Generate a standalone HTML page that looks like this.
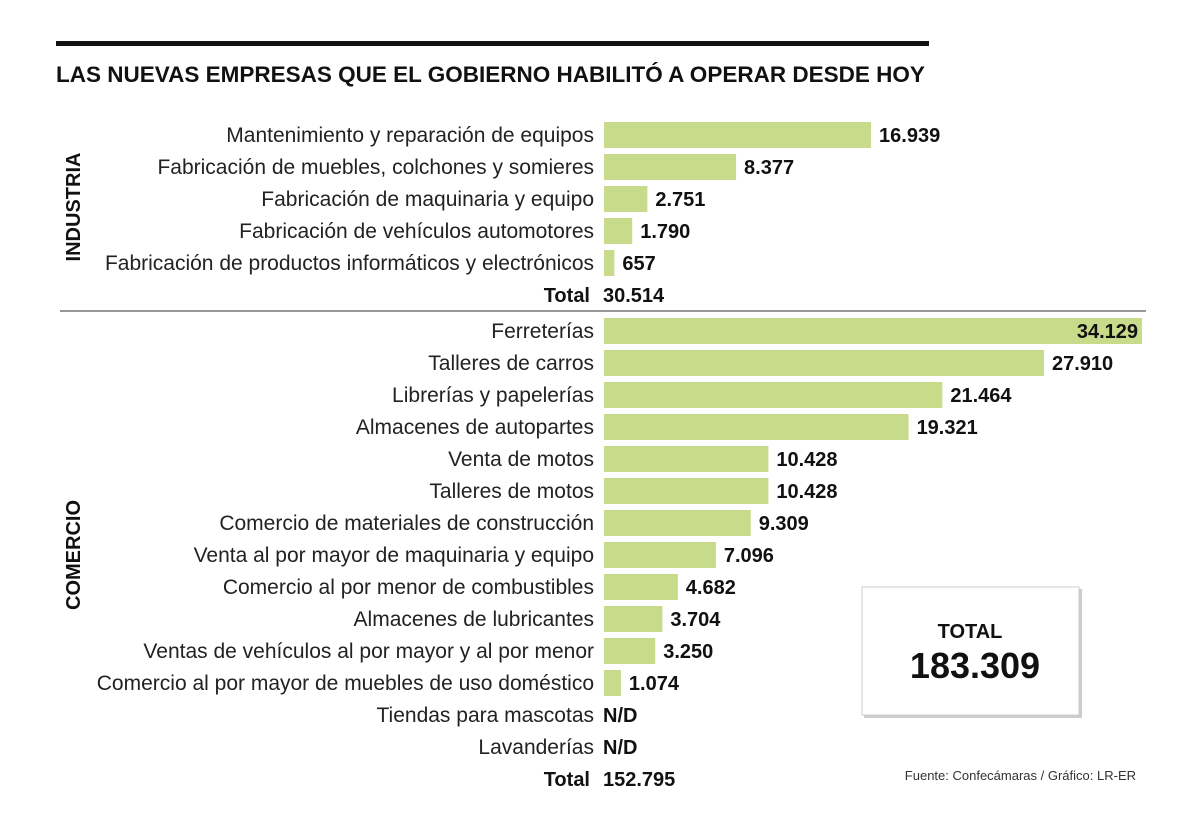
<!DOCTYPE html>
<html><head><meta charset="utf-8"><style>
body{margin:0;background:#fff;}
svg{display:block;font-family:"Liberation Sans",sans-serif;}
</style></head><body>
<svg id="chart" width="1200" height="832" viewBox="0 0 1200 832" xmlns="http://www.w3.org/2000/svg">
<rect x="56" y="41" width="873" height="5" fill="#111"/>
<text x="56" y="82" font-size="22.5" font-weight="bold" fill="#111">LAS NUEVAS EMPRESAS QUE EL GOBIERNO HABILITÓ A OPERAR DESDE HOY</text>
<line x1="60" y1="311" x2="1146" y2="311" stroke="#777" stroke-width="1.5"/>
<text transform="translate(80,207) rotate(-90)" text-anchor="middle" font-size="20" font-weight="bold" fill="#111">INDUSTRIA</text>
<text transform="translate(80,555) rotate(-90)" text-anchor="middle" font-size="20" font-weight="bold" fill="#111">COMERCIO</text>
<g id="bars"></g>
<rect x="864" y="589" width="218" height="129" fill="#999" opacity="0.5"/>
<rect x="862" y="587" width="217" height="128" fill="#fff" stroke="#ccc"/>
<text x="970" y="638" text-anchor="middle" font-size="20" font-weight="bold" fill="#111">TOTAL</text>
<text x="975" y="678" text-anchor="middle" font-size="36" font-weight="bold" fill="#111">183.309</text>
<text x="1136" y="780" text-anchor="end" font-size="13" fill="#333">Fuente: Confecámaras / Gráfico: LR-ER</text>
</svg>
<script>
const indCategories=["Mantenimiento y reparación de equipos","Fabricación de muebles, colchones y somieres","Fabricación de maquinaria y equipo","Fabricación de vehículos automotores","Fabricación de productos informáticos y electrónicos"];
const indValues=[16939,8377,2751,1790,657];
const indTotal="30.514";
const comCategories=["Ferreterías","Talleres de carros","Librerías y papelerías","Almacenes de autopartes","Venta de motos","Talleres de motos","Comercio de materiales de construcción","Venta al por mayor de maquinaria y equipo","Comercio al por menor de combustibles","Almacenes de lubricantes","Ventas de vehículos al por mayor y al por menor","Comercio al por mayor de muebles de uso doméstico","Tiendas para mascotas","Lavanderías"];
const comValues=[34129,27910,21464,19321,10428,10428,9309,7096,4682,3704,3250,1074,null,null];
const comTotal="152.795";

const NS="http://www.w3.org/2000/svg";
const g=document.getElementById('bars');
const x0=604, xScale=v=>x0+v*(538/34129);
function fmt(v){return v.toLocaleString('de-DE');}
function mk(tag,attrs){const e=document.createElementNS(NS,tag);for(const k in attrs)e.setAttribute(k,attrs[k]);g.appendChild(e);return e;}
function section(cats,vals,total,yStart,prefix){
  cats.forEach((c,i)=>{
    const cy=yStart+i*32;
    const lab=mk('text',{x:594,y:cy+7,'text-anchor':'end','font-size':21,fill:'#222'});
    lab.textContent=c;
    
    
    const v=vals[i];
    if(v==null){
      const t=mk('text',{x:603,y:cy+7,'font-size':20,'font-weight':'bold',fill:'#111'});
      t.textContent='N/D';
      
      
      return;
    }
    const xe=xScale(v);
    const r=mk('rect',{x:x0,y:cy-13,width:xe-x0,height:26,fill:'#c8db8a'});
    
    
    const inside=xe>1090;
    const t=mk('text',{x:inside?xe-4:xe+8,y:cy+7,'text-anchor':inside?'end':'start','font-size':20,'font-weight':'bold',fill:'#111'});
    t.textContent=fmt(v);
    
    
  });
  const ty=yStart+cats.length*32;
  const tl=mk('text',{x:590,y:ty+7,'text-anchor':'end','font-size':20,'font-weight':'bold',fill:'#111'});
  tl.textContent='Total';
  
  
  const tv=mk('text',{x:603,y:ty+7,'font-size':20,'font-weight':'bold',fill:'#111'});
  tv.textContent=total;
  
  
}
section(indCategories,indValues,indTotal,135,'industria');
section(comCategories,comValues,comTotal,331,'comercio');
</script>
</body></html>
